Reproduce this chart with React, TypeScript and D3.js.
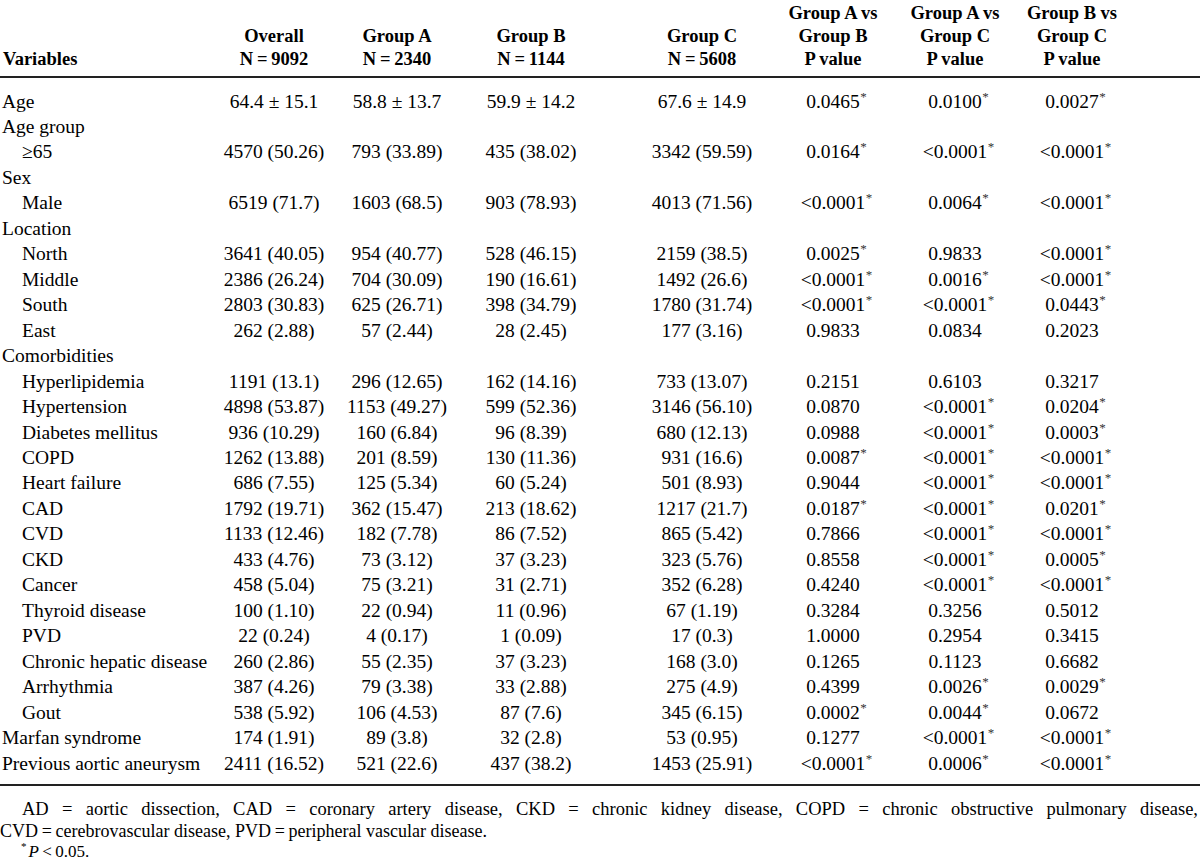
import React, { useEffect } from "react";
import * as d3 from "d3";

const rowLabels = [
  "Age", "Age group", "\u226565", "Sex", "Male", "Location", "North", "Middle", "South", "East",
  "Comorbidities", "Hyperlipidemia", "Hypertension", "Diabetes mellitus", "COPD", "Heart failure",
  "CAD", "CVD", "CKD", "Cancer", "Thyroid disease", "PVD", "Chronic hepatic disease", "Arrhythmia",
  "Gout", "Marfan syndrome", "Previous aortic aneurysm",
];
const rowIndent = [0, 0, 1, 0, 1, 0, 1, 1, 1, 1, 0, 1, 1, 1, 1, 1, 1, 1, 1, 1, 1, 1, 1, 1, 1, 0, 0];

const overall = ["64.4 \u00b1 15.1", "", "4570 (50.26)", "", "6519 (71.7)", "", "3641 (40.05)", "2386 (26.24)", "2803 (30.83)", "262 (2.88)", "", "1191 (13.1)", "4898 (53.87)", "936 (10.29)", "1262 (13.88)", "686 (7.55)", "1792 (19.71)", "1133 (12.46)", "433 (4.76)", "458 (5.04)", "100 (1.10)", "22 (0.24)", "260 (2.86)", "387 (4.26)", "538 (5.92)", "174 (1.91)", "2411 (16.52)"];
const groupA = ["58.8 \u00b1 13.7", "", "793 (33.89)", "", "1603 (68.5)", "", "954 (40.77)", "704 (30.09)", "625 (26.71)", "57 (2.44)", "", "296 (12.65)", "1153 (49.27)", "160 (6.84)", "201 (8.59)", "125 (5.34)", "362 (15.47)", "182 (7.78)", "73 (3.12)", "75 (3.21)", "22 (0.94)", "4 (0.17)", "55 (2.35)", "79 (3.38)", "106 (4.53)", "89 (3.8)", "521 (22.6)"];
const groupB = ["59.9 \u00b1 14.2", "", "435 (38.02)", "", "903 (78.93)", "", "528 (46.15)", "190 (16.61)", "398 (34.79)", "28 (2.45)", "", "162 (14.16)", "599 (52.36)", "96 (8.39)", "130 (11.36)", "60 (5.24)", "213 (18.62)", "86 (7.52)", "37 (3.23)", "31 (2.71)", "11 (0.96)", "1 (0.09)", "37 (3.23)", "33 (2.88)", "87 (7.6)", "32 (2.8)", "437 (38.2)"];
const groupC = ["67.6 \u00b1 14.9", "", "3342 (59.59)", "", "4013 (71.56)", "", "2159 (38.5)", "1492 (26.6)", "1780 (31.74)", "177 (3.16)", "", "733 (13.07)", "3146 (56.10)", "680 (12.13)", "931 (16.6)", "501 (8.93)", "1217 (21.7)", "865 (5.42)", "323 (5.76)", "352 (6.28)", "67 (1.19)", "17 (0.3)", "168 (3.0)", "275 (4.9)", "345 (6.15)", "53 (0.95)", "1453 (25.91)"];
const pAB = ["0.0465*", "", "0.0164*", "", "<0.0001*", "", "0.0025*", "<0.0001*", "<0.0001*", "0.9833", "", "0.2151", "0.0870", "0.0988", "0.0087*", "0.9044", "0.0187*", "0.7866", "0.8558", "0.4240", "0.3284", "1.0000", "0.1265", "0.4399", "0.0002*", "0.1277", "<0.0001*"];
const pAC = ["0.0100*", "", "<0.0001*", "", "0.0064*", "", "0.9833", "0.0016*", "<0.0001*", "0.0834", "", "0.6103", "<0.0001*", "<0.0001*", "<0.0001*", "<0.0001*", "<0.0001*", "<0.0001*", "<0.0001*", "<0.0001*", "0.3256", "0.2954", "0.1123", "0.0026*", "0.0044*", "<0.0001*", "0.0006*"];
const pBC = ["0.0027*", "", "<0.0001*", "", "<0.0001*", "", "<0.0001*", "<0.0001*", "0.0443*", "0.2023", "", "0.3217", "0.0204*", "0.0003*", "<0.0001*", "<0.0001*", "0.0201*", "<0.0001*", "0.0005*", "<0.0001*", "0.5012", "0.3415", "0.6682", "0.0029*", "0.0672", "<0.0001*", "<0.0001*"];

const columnKeys = ["overall", "groupA", "groupB", "groupC", "pAB", "pAC", "pBC"];
const columnHeaders = [
  ["Overall", "N\u2009=\u20099092"],
  ["Group A", "N\u2009=\u20092340"],
  ["Group B", "N\u2009=\u20091144"],
  ["Group C", "N\u2009=\u20095608"],
  ["Group A vs", "Group B", "P value"],
  ["Group A vs", "Group C", "P value"],
  ["Group B vs", "Group C", "P value"],
];
const footnotes = [
  "AD = aortic dissection, CAD = coronary artery disease, CKD = chronic kidney disease, COPD = chronic obstructive pulmonary disease,",
  "CVD\u2009=\u2009cerebrovascular disease, PVD\u2009=\u2009peripheral vascular disease.",
];

const columnValues = [overall, groupA, groupB, groupC, pAB, pAC, pBC];

const W = 1200;
const H = 861;
const FONT = "'Liberation Serif', 'Times New Roman', Times, serif";
const BODY = 19.5;
const HEAD = 18.5;
const FOOT = 18.5;

function measure(text: string, font: string): number {
  if (typeof document === "undefined") return text.length * 8;
  const c = document.createElement("canvas").getContext("2d");
  if (!c) return text.length * 8;
  c.font = font;
  return c.measureText(text).width;
}

export default function App() {
  useEffect(() => {
    document.body.style.margin = "0";
  }, []);

  const y = d3.scalePoint<number>().domain(d3.range(rowLabels.length)).range([101, 763]);
  const x = d3.scaleOrdinal<string, number>().domain(columnKeys).range([274, 397, 531, 702, 833, 955, 1072]);
  const headerY = d3.scalePoint<number>().domain([0, 1, 2]).range([13, 59]);

  const f0 = footnotes[0];
  const natural = measure(f0, `${FOOT}px 'Liberation Serif'`);
  const spaces = (f0.match(/ /g) || []).length;
  const wordSpacing = (1176 - natural) / spaces;

  return (
    <svg width={W} height={H} style={{ display: "block", background: "#fff" }} fontFamily={FONT} fill="#000">
      <text x={3} y={headerY(2)! + 6} fontWeight="bold" fontSize={HEAD}>Variables</text>
      {columnHeaders.map((lines, ci) => {
        const offset = 3 - lines.length;
        return lines.map((ln, li) => (
          <text key={ci + "-" + li} x={x(columnKeys[ci])} y={headerY(li + offset)! + 6} textAnchor="middle" fontWeight="bold" fontSize={HEAD}>
            {ln}
          </text>
        ));
      })}
      <line x1={0} x2={W} y1={77} y2={77} stroke="#222" strokeWidth={2} />

      {rowLabels.map((lab, ri) => (
        <text key={"l" + ri} x={rowIndent[ri] ? 22 : 2} y={y(ri)! + 6.5} fontSize={BODY}>{lab}</text>
      ))}
      {columnValues.map((vals, ci) =>
        vals.map((v, ri) => {
          if (!v) return null;
          const sig = v.endsWith("*");
          const txt = sig ? v.slice(0, -1) : v;
          const cx = x(columnKeys[ci]);
          const w = measure(txt, `${BODY}px 'Liberation Serif'`);
          return (
            <g key={ci + "_" + ri}>
              <text x={cx} y={y(ri)! + 6.5} textAnchor="middle" fontSize={BODY}>{txt}</text>
              {sig && (
                <text x={cx + w / 2 + 0.5} y={y(ri)! - 0.5} fontSize={13} fill="#333">*</text>
              )}
            </g>
          );
        })
      )}
      <line x1={0} x2={W} y1={785} y2={785} stroke="#222" strokeWidth={2} />

      <text x={22} y={815} fontSize={FOOT} style={{ wordSpacing: `${wordSpacing}px` }}>{f0}</text>
      <text x={0} y={837} fontSize={FOOT} textLength={487} lengthAdjust="spacingAndGlyphs">{footnotes[1]}</text>
      <text x={21} y={857} fontSize={17}>
        <tspan fontSize={11} dy={-7}>*</tspan>
        <tspan dy={7} dx={2} fontStyle="italic">P</tspan>
        <tspan>{"\u2009<\u20090.05."}</tspan>
      </text>
    </svg>
  );
}
